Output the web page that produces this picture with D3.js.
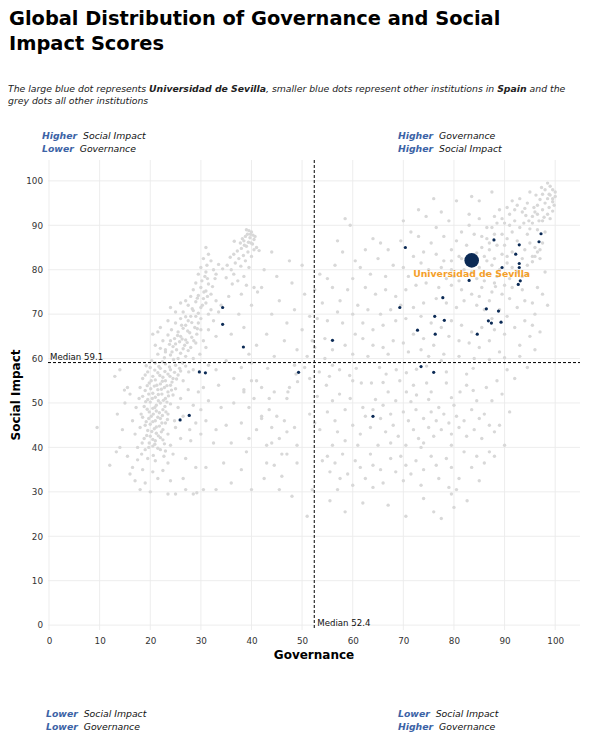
<!DOCTYPE html>
<html><head><meta charset="utf-8">
<script src="https://cdn.jsdelivr.net/npm/d3@7"></script>
<style>body{margin:0;background:#fff}svg{display:block}text{font-family:"DejaVu Sans",sans-serif}</style>
</head><body><svg id="chart" width="593" height="740"></svg>
<script>
// ---------- DATA ----------
const xTicks = [0,10,20,30,40,50,60,70,80,90,100];
const yTicks = [0,10,20,30,40,50,60,70,80,90,100];
const medianGov = 52.4;
const medianSI = 59.1;
const sevilla = {name:"Universidad de Sevilla", gov:83.5, si:82.1};
// other Spanish institutions [governance, social impact]
const spainPoints = [
[70.4,85.0],[87.9,86.7],[97.2,88.1],[96.8,86.3],[92.9,85.6],[92.2,83.5],[92.9,81.4],[92.9,80.5],
[89.5,80.5],[93.1,77.5],[92.7,76.7],[83.0,77.6],[77.8,73.7],[69.3,71.5],[76.2,69.5],[78.1,68.6],
[72.8,66.4],[76.3,65.5],[86.4,71.2],[88.8,70.7],[86.8,68.5],[87.4,68.0],[89.3,68.2],[84.6,65.5],
[56.0,64.1],[49.3,56.9],[73.5,58.2],[76.0,56.9],[64.0,47.0],[34.3,71.5],[34.3,67.7],[38.4,62.6],
[29.7,57.0],[30.9,56.8],[27.7,47.2],[25.9,46.2]
];
// all other institutions [governance, social impact]
const otherPoints = [
[39.0,89.0],[39.5,88.8],[40.0,88.5],[39.2,88.0],[40.3,87.8],[38.8,87.5],[39.7,87.2],[40.5,86.8],[38.5,86.5],[39.4,86.2],[40.2,85.8],[37.8,86.0],[36.6,86.4],[39.0,85.3],[38.0,84.8],[40.5,84.5],[37.2,84.2],[39.3,84.0],[36.5,83.5],[38.4,83.2],[40.0,83.0],[35.8,82.8],[37.5,82.5],[38.8,82.0],[36.8,81.5],[35.2,81.0],[37.9,80.8],[39.5,80.5],[36.0,80.0],[41.5,84.3],[34.3,80.2],[33.5,81.2],[36.5,79.0],[38.5,78.5],[35.0,78.2],[37.3,77.5],[40.5,76.0],[41.2,75.0],[39.0,76.5],[36.2,76.8],[38.0,74.5],
[39.8,88.0],[38.2,87.0],[39.9,86.0],[40.7,87.5],[38.6,85.5],
[31.0,85.0],[31.5,83.5],[30.5,82.5],[32.0,82.0],[31.2,81.0],[30.0,80.5],[32.5,80.0],[31.0,79.5],[29.5,79.0],[30.8,78.5],[32.8,78.0],[30.2,77.5],[29.0,77.0],[31.5,76.8],[30.0,76.0],[28.5,75.5],[31.0,75.2],[32.0,74.5],[29.5,74.2],[28.0,74.0],[30.5,73.5],[33.0,73.0],[29.0,72.8],[31.0,72.5],[27.5,72.0],[30.0,71.5],[32.0,71.0],[28.5,70.8],[26.5,70.5],[29.5,70.2],[31.5,70.0],[33.5,70.5],[34.0,72.0],[35.5,74.0],[27.0,73.0],
[28.0,69.5],[26.0,69.0],[27.5,68.5],[29.5,68.0],[25.0,68.0],[27.0,67.5],[28.8,67.0],[26.5,66.8],[24.2,66.5],[30.0,66.5],[25.5,66.0],[27.8,65.8],[29.2,65.5],[23.5,65.3],[26.0,65.0],[28.2,64.8],[24.8,64.5],[27.0,64.2],[22.5,64.0],[25.8,63.8],[29.0,63.5],[23.8,63.2],[26.8,63.0],[24.5,62.7],[28.0,62.5],[22.0,62.3],[25.2,62.0],[27.5,61.8],[23.0,61.5],[26.0,61.2],[29.8,61.0],[21.5,61.0],[24.0,60.8],[27.0,60.5],[22.8,60.2],[25.5,60.0],[28.5,60.0],[30.5,64.0],[31.5,66.5],[32.5,68.5],[31.0,62.5],[21.0,63.0],[20.5,65.5],[22.0,67.0],[23.5,68.5],[25.0,70.5],[24.0,71.5],[26.0,72.5],[21.5,66.0],[33.0,65.0],[30.0,69.0],
[23.0,62.0],[24.3,61.5],[26.5,62.2],[25.0,63.3],[27.3,63.6],[28.6,64.0],[26.3,64.4],[24.0,64.0],[25.4,65.2],[27.4,66.2],[29.3,66.7],[26.2,67.5],[28.2,68.1],[27.0,69.4],[29.0,69.5],[28.3,71.2],[30.3,72.0],[29.3,73.6],[31.3,74.0],[30.6,75.0],[32.3,76.2],[31.3,78.0],[33.0,79.0],
[21.0,59.0],[23.0,58.8],[25.0,58.5],[27.0,58.3],[20.0,58.0],[22.0,57.8],[24.0,57.5],[26.0,57.2],[28.5,57.5],[19.5,57.0],[21.5,56.8],[23.5,56.5],[25.5,56.3],[20.5,56.0],[22.5,55.8],[24.5,55.5],[18.5,55.5],[21.0,55.2],[23.0,55.0],[26.5,55.0],[19.8,54.5],[22.0,54.3],[24.0,54.0],[20.8,53.8],[22.8,53.5],[18.0,53.5],[25.0,53.2],[21.5,53.0],[19.0,52.8],[23.5,52.5],[20.5,52.2],[22.3,52.0],[24.5,51.8],[18.5,51.5],[21.0,51.3],[23.0,51.0],[19.5,50.8],[20.0,50.2],[22.0,50.0],[24.0,49.8],[21.2,49.5],[18.8,49.2],[20.5,48.8],[22.5,48.5],[19.8,48.0],[21.8,47.8],[23.5,47.5],[20.2,47.0],[18.5,46.8],[22.0,46.5],[21.0,46.0],[19.2,45.8],[23.0,45.5],[20.0,45.2],[21.8,44.8],[18.0,44.5],[20.8,44.2],[22.5,44.0],[19.5,43.8],[21.2,43.2],[23.5,43.0],[20.0,42.5],[22.0,42.2],[18.8,42.0],[21.0,41.5],[19.8,41.0],[22.8,40.8],[20.5,40.3],[24.0,40.5],[21.5,39.8],[19.0,39.5],[23.0,39.2],[17.5,40.0],[17.0,43.0],[16.5,46.0],[17.2,49.0],[16.0,52.0],[15.5,53.5],[17.8,51.0],[18.2,47.5],[26.0,51.0],[27.5,53.0],[25.5,49.0],[26.5,47.0],[28.5,49.5],[29.5,52.5],[27.8,44.0],[26.0,42.0],[25.0,44.5],[24.8,46.0],[29.0,45.5],[30.0,48.5],[28.0,41.5],[24.5,38.5],[19.5,37.5],[21.0,37.0],[23.5,36.5],[17.5,37.2],[16.5,35.5],[18.5,35.0],[20.5,34.5],[22.5,34.8],[16.0,34.0],[17.0,32.5],[19.0,32.0],[21.5,33.0],[18.0,30.5],[20.0,30.0],[24.0,32.5],[26.5,33.0],[27.0,30.5],[28.5,29.5],[29.2,29.8],[15.5,38.0],[14.0,40.0],[14.5,44.0],[13.5,47.5],[15.0,50.0],[12.0,36.0],[9.5,44.5],[13.0,56.0],[14.0,57.5],[14.9,52.9],[13.3,39.0],
[20.3,59.5],[22.4,59.3],[24.6,59.8],[26.4,59.0],[19.2,58.4],[21.7,58.2],[23.8,58.1],[25.8,57.8],[27.6,57.0],[20.9,57.4],[22.9,57.1],[24.8,56.9],[19.0,56.3],[21.9,56.2],[23.9,56.0],[25.2,55.4],[20.2,55.0],[22.4,54.9],[24.3,54.7],[19.4,53.9],[21.3,54.0],[23.3,53.9],[20.1,53.2],[22.2,53.1],[24.2,52.9],[19.7,52.0],[21.6,51.9],[23.6,51.6],[20.4,51.0],[22.6,50.6],[19.1,50.3],[21.6,50.5],[23.3,50.2],[20.9,49.0],[22.9,49.2],[19.4,48.6],[21.2,48.2],[23.1,48.0],[20.6,47.5],[22.4,47.2],[19.7,46.5],[21.5,46.8],[23.4,46.3],[20.5,45.8],[22.3,45.5],[19.0,45.0],[21.2,44.6],[20.3,43.6],[22.2,43.5],[19.3,42.7],[21.6,42.6],[20.5,41.8],[22.5,41.7],[18.4,41.0],[20.9,40.7],[19.7,40.0],[22.0,39.5],[18.3,38.5],[20.6,38.2],[22.7,38.0],
[31.5,58.5],[33.0,57.5],[35.0,59.5],[38.0,58.0],[40.0,59.0],[41.0,55.0],[33.5,54.0],[30.5,53.5],[31.5,50.5],[34.0,49.0],[36.5,50.0],[38.5,52.5],[39.5,49.0],[42.0,47.0],[31.0,46.0],[33.0,44.0],[35.0,45.0],[30.0,43.0],[32.5,41.0],[36.0,41.0],[38.0,45.5],[40.5,51.0],[39.0,39.0],[34.5,36.5],[31.0,35.5],[36.0,32.0],[29.0,35.5],[27.0,37.5],[30.5,30.5],[33.0,30.5],[25.0,29.5],[23.5,29.5],
[98.5,99.5],[99.0,98.8],[99.5,98.0],[98.0,98.0],[100.0,97.5],[97.5,97.0],[99.0,96.8],[98.5,96.0],[100.0,96.5],[97.0,95.8],[99.5,95.3],[98.0,95.0],[99.8,94.5],[96.5,94.5],[98.8,94.0],[97.5,93.5],[99.5,93.2],[96.0,93.0],[98.5,92.5],[95.5,92.0],[97.8,91.8],[99.0,91.5],[94.8,91.0],
[95.0,97.5],[93.0,96.0],[96.2,96.8],[91.5,95.5],[94.5,95.0],[92.5,94.5],[95.8,94.0],[90.5,94.0],[93.5,93.0],[91.0,92.5],[94.2,92.2],[89.0,93.5],[92.0,91.0],[95.5,90.5],[90.0,90.5],[88.0,92.0],[93.0,89.5],[91.5,88.5],[96.5,89.0],[94.5,88.0],[89.5,88.0],[87.5,89.5],[90.5,87.0],[92.5,86.5],[86.5,87.0],[88.5,85.5],[95.0,86.0],[97.5,86.0],[97.0,84.5],[96.0,85.0],[94.0,84.5],[95.5,83.0],[98.0,88.5],
[92.0,93.5],[94.0,93.8],[96.8,91.0],[93.8,90.5],[95.0,89.2],[91.0,90.0],[89.5,91.5],[88.0,88.0],[90.0,85.5],[91.5,84.0],[93.5,82.5],[94.5,81.0],[90.5,83.0],[87.0,84.5],[85.5,87.5],[92.5,79.5],[94.5,79.0],[88.2,76.2],[87.0,73.0],[85.0,74.0],[95.5,72.5],[97.5,74.5],[99.5,96.0],[98.8,97.0],[97.3,98.5],
[96.5,84.0],[96.0,83.0],[97.0,82.5],[95.5,81.8],
[85.0,91.5],[83.0,90.0],[86.5,89.5],[88.5,90.5],[81.5,88.5],[84.0,88.0],[87.0,86.0],[80.5,86.5],[82.5,85.5],[85.5,85.0],[79.5,84.5],[84.5,83.8],[86.0,83.0],[88.0,82.5],[81.0,83.0],[89.5,83.5],[78.0,82.0],[87.5,81.0],[85.0,80.5],[90.5,81.5],[89.0,80.0],[91.5,80.5],[79.5,80.0],[77.5,80.5],[82.0,80.0],[86.5,79.0],[88.5,78.5],[91.0,78.0],[84.5,78.0],[80.0,78.5],[83.0,92.5],[79.0,91.0],[76.5,89.5],[74.5,92.0],[73.0,93.5],[76.0,96.0],[80.5,95.5],[83.5,96.5],[87.5,97.5],[85.0,95.5],[77.5,93.0],[70.0,91.0],[78.0,87.5],[75.5,86.0],[73.0,87.5],[71.5,88.5],[69.5,86.5],[74.0,84.0],[76.5,83.5],[72.0,83.0],[73.5,81.5],[70.0,80.5],[75.0,80.0],[71.0,78.5],[68.0,81.0],[67.0,84.5],[65.5,86.0],[64.0,87.0],[62.5,84.5],[65.0,82.5],[61.5,80.5],[63.5,79.0],[66.5,78.5],[60.0,78.0],[59.0,75.5],[57.5,73.0],[56.0,76.0],[55.0,78.0],[56.5,81.0],[58.0,84.0],[59.5,90.0],[58.5,91.5],[57.0,86.5],[60.5,82.0],[62.5,76.0],[64.5,74.5],[66.5,75.5],[68.5,74.0],[70.5,75.5],[72.5,76.5],[74.5,77.0],[77.0,76.0],[79.5,76.5],[81.5,75.5],[83.5,74.5],[85.5,76.0],[87.5,75.0],[89.5,74.5],[91.5,76.0],[93.5,75.5],[82.0,73.0],[84.5,72.0],[86.0,71.0],[80.5,71.5],[78.5,72.5],[76.5,73.5],[74.0,72.5],[72.0,71.5],[69.5,72.0],[67.5,71.0],[65.5,70.0],[63.0,71.0],[61.0,72.0],[60.0,70.0],[58.0,68.0],[57.0,70.5],[55.0,68.5],[54.0,72.5],[52.5,75.5],[53.0,69.0],[62.0,68.0],[64.0,66.5],[66.0,67.5],[68.5,68.5],[70.5,69.0],[73.5,69.5],[75.5,68.0],[77.5,67.0],[79.5,68.5],[81.5,67.5],[83.5,66.0],[85.5,67.0],[88.0,66.5],[90.0,65.5],[92.0,67.0],[94.0,68.5],[96.0,70.0],[79.0,65.0],[81.0,64.0],[83.0,63.5],[85.0,62.5],[87.0,64.0],[89.0,61.5],[76.0,63.0],[74.0,64.5],[72.0,65.5],[70.0,63.5],[68.0,64.0],[66.0,62.5],[64.0,63.0],[62.0,64.5],[60.5,65.5],[58.5,63.0],[56.0,62.0],[54.5,64.5],[52.5,62.5],[60.0,61.0],[63.0,60.5],[67.0,61.0],[71.0,61.5],[75.0,60.5],[78.0,61.0],[81.0,60.5],[84.0,60.0],[87.0,59.8],[90.0,60.2],[93.0,63.0],[95.0,65.0],[73.5,62.0],[77.5,59.5],[97.5,91.0],[96.5,92.5],
[81.5,82.5],[79.5,82.0],[84.0,81.5],[86.5,82.0],[83.5,79.5],[81.0,77.5],[78.5,78.0],[86.0,77.5],[88.0,77.0],[90.0,76.5],
[43.2,57.8],[48.8,56.5],[53.4,57.0],[55.4,56.0],[57.4,57.5],[59.4,56.2],[60.7,57.8],[65.3,58.0],[66.6,56.5],[68.6,57.5],[70.6,56.8],[72.6,57.6],[74.6,58.3],[78.5,57.0],[82.5,56.5],[83.8,57.8],
[47.5,53.5],[47.2,52.5],[49.1,54.8],[54.8,54.0],[57.4,52.0],[60.0,55.0],[61.7,54.5],[63.7,54.5],[66.0,54.6],[67.0,52.5],[69.3,55.0],[70.6,52.5],[72.0,54.0],[72.6,51.8],[74.6,54.5],[75.5,52.5],[78.5,54.5],[81.2,52.5],[82.5,54.0],[83.8,52.8],[86.4,53.5],[43.5,51.0],[44.5,52.5],[53.0,51.5],[56.0,50.5],[59.5,51.0],[64.5,50.8],[68.5,50.5],[71.5,50.3],[75.0,50.8],[79.5,51.2],[84.5,50.5],
[42.0,46.5],[43.5,48.5],[45.0,47.0],[46.5,46.0],[44.0,44.5],[47.0,43.5],[45.5,42.0],[48.5,44.5],[49.0,40.5],[43.0,40.5],[51.5,47.5],[52.5,45.5],[53.5,44.0],[55.0,48.0],[56.5,46.0],[57.0,43.5],[58.5,48.5],[60.0,45.0],[61.5,43.0],[62.5,47.0],[63.5,44.5],[64.0,48.5],[65.5,46.5],[66.5,43.5],[67.5,47.5],[68.0,45.0],[69.0,42.5],[70.0,48.0],[71.0,46.0],[72.0,44.0],[72.5,48.5],[73.0,42.0],[74.0,46.5],[75.0,44.5],[75.5,48.0],[76.0,42.5],[76.5,46.0],[77.5,44.0],[78.0,47.5],[79.0,45.5],[79.5,43.0],[80.5,47.0],[81.0,44.5],[82.0,46.0],[82.5,42.5],[83.5,48.5],[84.0,44.0],[85.0,46.5],[85.5,42.0],[86.0,47.5],[87.0,45.0],[88.0,43.5],[67.5,41.0],[70.5,40.5],[73.5,40.0],[65.0,40.5],[61.0,40.5],[58.5,41.5],[56.0,40.5],[62.0,49.0],[66.0,49.5],[77.0,49.0],[80.0,49.5],[74.0,41.0],[79.5,40.5],
[43.0,36.5],[44.5,36.0],[46.0,33.5],[49.0,36.5],[47.0,38.5],[54.0,37.0],[55.5,34.5],[55.0,38.0],[56.5,36.5],[57.5,33.0],[58.0,38.5],[59.0,34.0],[60.5,37.0],[61.5,35.5],[62.5,33.0],[63.5,38.5],[64.0,36.0],[65.5,35.0],[66.0,32.0],[67.5,37.5],[68.5,34.5],[69.5,38.0],[70.0,32.5],[70.5,36.0],[71.5,34.0],[72.5,37.0],[73.5,31.5],[74.0,35.0],[75.5,38.0],[76.5,36.0],[77.0,33.0],[78.5,37.5],[79.0,31.0],[79.5,35.5],[80.5,30.5],[81.0,33.0],[82.0,39.0],[83.5,35.5],[84.5,38.0],[85.0,32.5],[86.0,36.5],[87.0,39.0],[60.0,31.5],[64.0,31.0],[57.0,30.5],[52.0,30.5],
[55.5,28.0],[58.5,25.5],[62.0,27.5],[67.0,27.0],[70.5,24.5],[74.0,28.5],[76.0,25.5],[77.5,24.0],[80.0,26.5],[79.5,29.5],[51.0,24.5],[48.0,29.0],[82.6,28.0],
[88.5,55.0],[89.5,52.0],[90.5,57.5],[91.0,48.0],[89.0,45.0],[88.0,38.0],[90.0,40.5],[87.5,50.5],[92.0,55.5],[93.0,60.5],[94.5,58.0],[96.0,62.0],[97.0,66.0],[98.5,72.0],[95.5,67.5],[92.5,71.5],[94.0,73.0],[90.5,69.5],[96.5,76.0],[98.0,79.5],[93.5,78.5],[91.0,73.5],[89.0,71.0],[87.5,69.0],
[36.5,55.5],[38.5,53.0],[40.0,55.0],[42.0,53.5],[41.0,44.0],[39.5,42.0],[44.0,41.0],[46.0,38.5],[45.5,30.5],[42.5,33.0],[40.0,30.5],[38.0,35.0],[47.0,51.0],[48.5,58.5],[50.5,58.0],[51.5,55.5],
[40.0,72.0],[42.0,76.0],[44.0,70.0],[45.5,73.0],[47.0,68.0],[43.0,65.5],[46.5,64.0],[48.5,71.0],[50.0,66.5],[49.0,62.0],[51.5,69.5],[52.0,64.0],[38.5,67.0],[41.0,63.0],[44.5,60.5],[39.5,61.0],[36.0,65.5],[37.5,70.0],[42.5,80.0],[45.0,78.5],[48.0,77.0],[50.5,74.5],[53.5,79.0],[41.0,85.0],[44.0,84.0],[47.5,82.0],[50.0,81.0],[56.0,58.5],[51.0,60.5],[54.5,60.0]
];

// ---------- CHART ----------
const svg = d3.select("#chart");
const M = {left:48, right:580, top:160, bottom:630};
const x = d3.scaleLinear().domain([-0.2,104.9]).range([M.left, M.right]);
const y = d3.scaleLinear().domain([-1.1,104.7]).range([M.bottom, M.top]);

const dark = "#0b2a55", grey = "#d8d8d8", blueLbl = "#3c63a6", orange = "#f5a02a";

// title
const title = svg.append("text").attr("font-size",19.4).attr("font-weight","bold").attr("fill","#000");
title.append("tspan").attr("x",9).attr("y",25).text("Global Distribution of Governance and Social");
title.append("tspan").attr("x",9).attr("y",50).text("Impact Scores");

// subtitle
const sub = svg.append("text").attr("font-size",9.3).attr("font-style","italic").attr("fill","#222");
const l1 = sub.append("tspan").attr("x",8).attr("y",92);
l1.append("tspan").text("The large blue dot represents ");
l1.append("tspan").attr("font-weight","bold").text("Universidad de Sevilla");
l1.append("tspan").text(", smaller blue dots represent other institutions in ");
l1.append("tspan").attr("font-weight","bold").text("Spain");
l1.append("tspan").text(" and the");
sub.append("tspan").attr("x",8).attr("y",104).text("grey dots all other institutions");

// quadrant labels
function quad(x0, y0, lines){
  lines.forEach((ln,i)=>{
    const t = svg.append("text").attr("x",x0).attr("y",y0+i*12.5).attr("font-size",9.3).attr("font-style","italic");
    t.append("tspan").attr("font-weight","bold").attr("fill",blueLbl).text(ln[0]);
    t.append("tspan").attr("fill","#111").text("\u00a0 "+ln[1]);
  });
}
quad(42,139,[["Higher","Social Impact"],["Lower","Governance"]]);
quad(398,139,[["Higher","Governance"],["Higher","Social Impact"]]);
quad(46,717,[["Lower","Social Impact"],["Lower","Governance"]]);
quad(398,717,[["Lower","Social Impact"],["Higher","Governance"]]);

// grid
const g = svg.append("g");
g.selectAll(".vg").data(xTicks).join("line").attr("x1",d=>x(d)).attr("x2",d=>x(d)).attr("y1",M.top).attr("y2",M.bottom).attr("stroke","#ebebeb").attr("stroke-width",0.9);
g.selectAll(".hg").data(yTicks).join("line").attr("y1",d=>y(d)).attr("y2",d=>y(d)).attr("x1",M.left).attr("x2",M.right).attr("stroke","#ebebeb").attr("stroke-width",0.9);

// axes (labels only)
const xAxis = d3.axisBottom(x).tickValues(xTicks).tickSize(0).tickPadding(8);
const ax = svg.append("g").attr("transform",`translate(0,${M.bottom})`).call(xAxis);
ax.select(".domain").remove();
ax.selectAll("text").attr("font-size",8.8).attr("fill","#333").attr("font-family","DejaVu Sans");
const yAxis = d3.axisLeft(y).tickValues(yTicks).tickSize(0).tickPadding(5);
const ay = svg.append("g").attr("transform",`translate(${M.left},0)`).call(yAxis);
ay.select(".domain").remove();
ay.selectAll("text").attr("font-size",8.8).attr("fill","#333").attr("font-family","DejaVu Sans");

svg.append("text").attr("x",(M.left+M.right)/2).attr("y",659).attr("text-anchor","middle").attr("font-size",12).attr("font-weight","bold").text("Governance");
svg.append("text").attr("transform",`translate(20,${(M.top+M.bottom)/2}) rotate(-90)`).attr("text-anchor","middle").attr("font-size",12).attr("font-weight","bold").text("Social Impact");

// points
svg.append("g").selectAll("circle").data(otherPoints).join("circle")
  .attr("cx",d=>x(d[0])).attr("cy",d=>y(d[1])).attr("r",1.7).attr("fill",grey);

// median lines
svg.append("line").attr("x1",x(medianGov)).attr("x2",x(medianGov)).attr("y1",M.top).attr("y2",M.bottom)
  .attr("stroke","#000").attr("stroke-width",1).attr("stroke-dasharray","3,2");
svg.append("line").attr("y1",y(medianSI)).attr("y2",y(medianSI)).attr("x1",M.left).attr("x2",M.right)
  .attr("stroke","#000").attr("stroke-width",1).attr("stroke-dasharray","3,2");
svg.append("text").attr("x",M.left+2).attr("y",y(medianSI)-3).attr("font-size",8.6).attr("fill","#111").text("Median "+medianSI);
svg.append("text").attr("x",x(medianGov)+3).attr("y",M.bottom-4).attr("font-size",8.6).attr("fill","#111").text("Median "+medianGov);

svg.append("g").selectAll("circle").data(spainPoints).join("circle")
  .attr("cx",d=>x(d[0])).attr("cy",d=>y(d[1])).attr("r",1.6).attr("fill",dark);

svg.append("circle").attr("cx",x(sevilla.gov)).attr("cy",y(sevilla.si)).attr("r",7.3).attr("fill",dark);
svg.append("text").attr("x",x(sevilla.gov)).attr("y",y(sevilla.si)+17).attr("text-anchor","middle")
  .attr("font-size",9.3).attr("font-weight","bold").attr("fill",orange).text(sevilla.name);
</script></body></html>
